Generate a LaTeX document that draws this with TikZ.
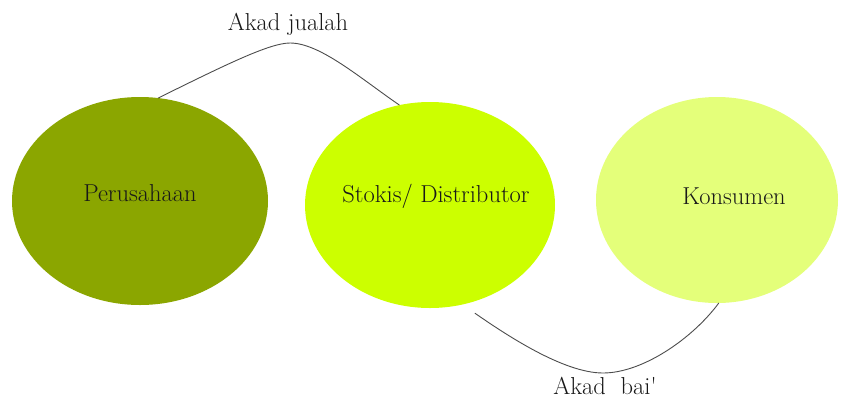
\documentclass[tikz,border=0pt]{standalone}
\usetikzlibrary{shapes.geometric}
\begin{document}
\begin{tikzpicture}[x=1pt,y=-1pt,
  blob/.style={ellipse,draw=none,inner sep=0pt,outer sep=0pt},
  lbl/.style={text=black!90,font=\fontsize{24.5}{28}\selectfont,inner sep=0pt},
  link/.style={draw=black!70,line width=0.9pt}]
\useasboundingbox (0,0) rectangle (841,400);
\definecolor{cPer}{RGB}{139,166,0}
\definecolor{cSto}{RGB}{204,255,0}
\definecolor{cKon}{RGB}{228,255,122}
\node[blob,fill=cPer,minimum width=256pt,minimum height=208pt] (per) at (140,201) {};
\node[blob,fill=cSto,minimum width=250pt,minimum height=206pt] (sto) at (430,205) {};
\node[blob,fill=cKon,minimum width=242pt,minimum height=206pt] (kon) at (717,200) {};
\node[lbl] (tper) at (140,193) {Perusahaan};
\node[lbl] (tsto) at (436,196) {Stokis/ Distributor};
\node[lbl] (tkon) at (734,196) {Konsumen};
\node[lbl] (tjual) at (288,24) {Akad jualah};
\node[lbl] (tbai) at (605,386) {Akad\ \ bai\textquotesingle};
\draw[link] (per.80) .. controls (227,64) and (270,43) .. (290,43)
  .. controls (320,43) and (360,78) .. (sto.107.5);
\draw[link] ([yshift=-12pt]sto.-65) .. controls (505,334) and (563,373) .. (603,373)
  .. controls (643,373) and (693,338) .. (kon.-89.4);
\end{tikzpicture}
\end{document}
